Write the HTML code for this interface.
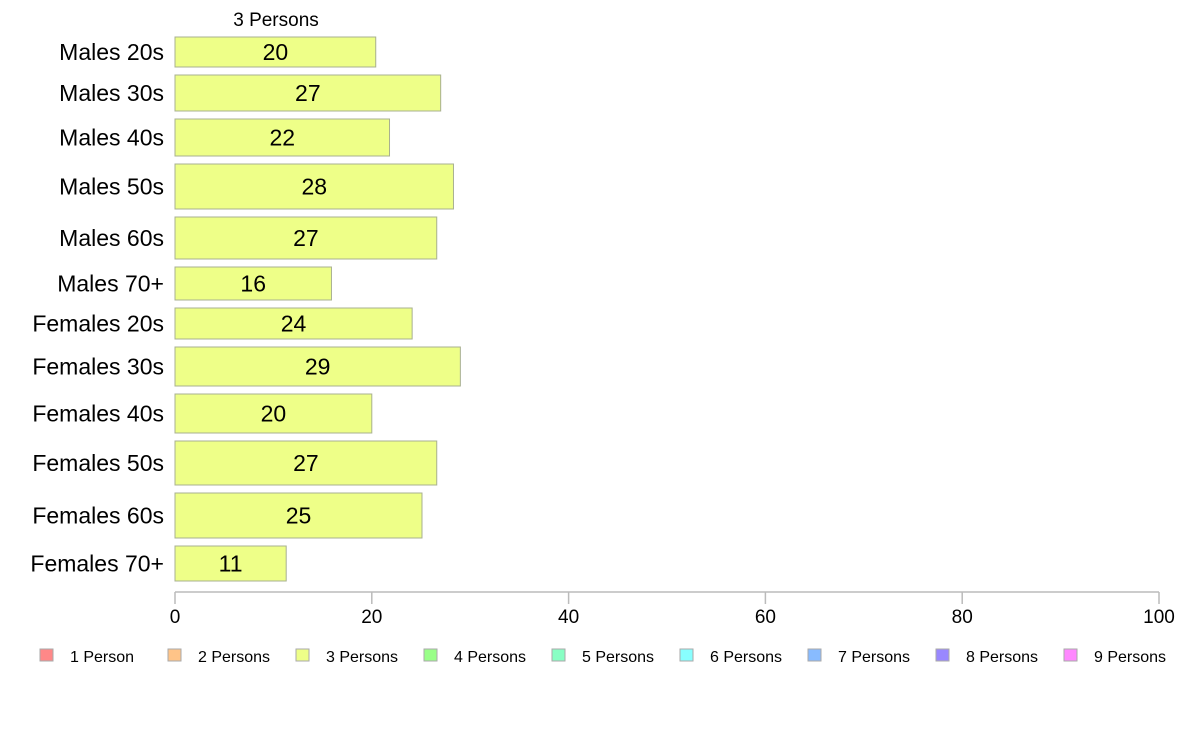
<!DOCTYPE html>
<html><head><meta charset="utf-8"><style>
body{margin:0;background:#fff;}
svg{display:block;font-family:"Liberation Sans",Arial,sans-serif;}
</style></head><body>
<svg id="chart" width="1188" height="736">
<text x="276" y="26" font-size="19" text-anchor="middle">3 Persons</text>
<g id="bars"></g>
<g id="axis"></g>
<g id="legend"></g>
</svg>
<script>
const categories=["Males 20s","Males 30s","Males 40s","Males 50s","Males 60s","Males 70+","Females 20s","Females 30s","Females 40s","Females 50s","Females 60s","Females 70+"];
const values=[20.4,27.0,21.8,28.3,26.6,15.9,24.1,29.0,20.0,26.6,25.1,11.3];
const labels=["20","27","22","28","27","16","24","29","20","27","25","11"];
const weights=[30,36,37,45,42,33,31,39,39,44,45,35];
const ticks=[0,20,40,60,80,100];
const legendNames=["1 Person","2 Persons","3 Persons","4 Persons","5 Persons","6 Persons","7 Persons","8 Persons","9 Persons"];
const legendColors=["#ff8888","#ffc488","#eeff88","#99ff88","#88ffc4","#88ffff","#88bbff","#9988ff","#ff88ff"];
const NS="http://www.w3.org/2000/svg";
const x0=175,x1=1159,yTop=37,yBot=581,gap=8;
const xs=v=>x0+(v/100)*(x1-x0);
function mk(t,a,p){const e=document.createElementNS(NS,t);for(const k in a)e.setAttribute(k,a[k]);p.appendChild(e);return e;}
const bars=document.getElementById('bars');
const totalW=weights.reduce((a,b)=>a+b,0);
const scale=(yBot-yTop-gap*(weights.length-1))/totalW;
let y=yTop;
categories.forEach((c,i)=>{
  const h=weights[i]*scale;
  const r=mk('rect',{x:x0,y:y,width:xs(values[i])-x0,height:h,fill:"#eeff88",stroke:"#a8b090","stroke-width":1},bars);
  
  
  const t=mk('text',{x:(x0+xs(values[i]))/2,y:y+h/2+8,"font-size":23,"text-anchor":"middle"},bars);
  t.textContent=labels[i];
  
  
  const l=mk('text',{x:164,y:y+h/2+8,"font-size":23,"text-anchor":"end"},bars);
  l.textContent=c;
  
  
  y+=h+gap;
});
const ax=document.getElementById('axis');
const al=mk('line',{x1:x0,x2:x1,y1:592,y2:592,stroke:"#bbbbbb","stroke-width":1.5},ax);


ticks.forEach(v=>{
  const tl=mk('line',{x1:xs(v),x2:xs(v),y1:592,y2:604,stroke:"#bbbbbb","stroke-width":1.5},ax);
  
  
  const tt=mk('text',{x:xs(v),y:623,"font-size":19,"text-anchor":"middle"},ax);
  tt.textContent=v;
  
  
});
const lg=document.getElementById('legend');
legendNames.forEach((n,i)=>{
  const lx=40+i*128;
  const s=mk('rect',{x:lx,y:649,width:13,height:12,fill:legendColors[i],stroke:"#aaaaaa","stroke-width":1},lg);
  
  
  const t=mk('text',{x:lx+30,y:662,"font-size":16},lg);
  t.textContent=n;
  
  
});
</script>
</body></html>
